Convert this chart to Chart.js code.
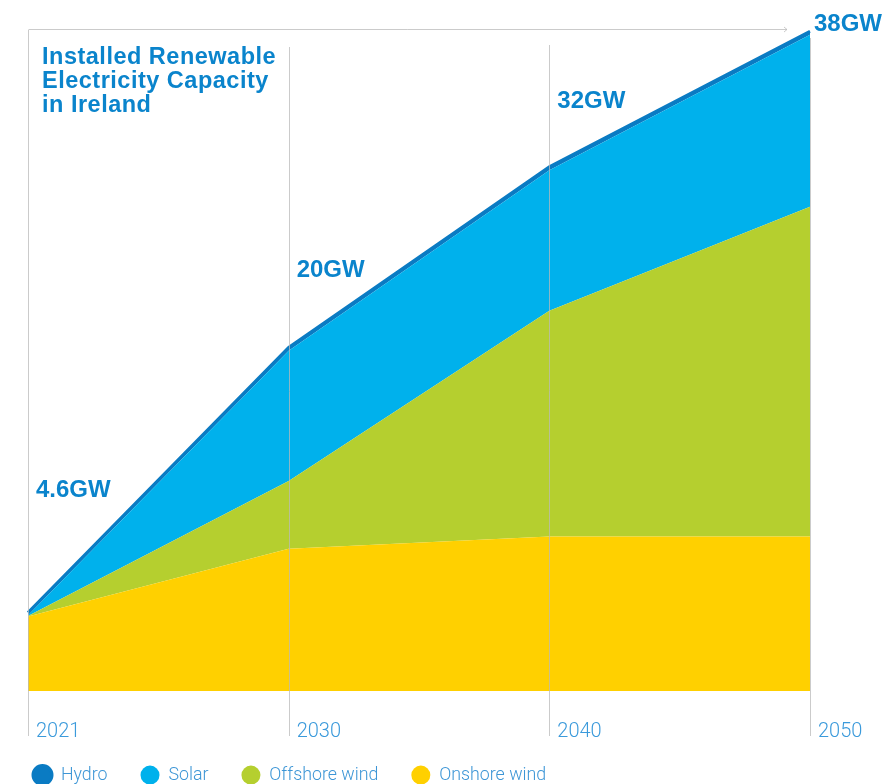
<!DOCTYPE html>
<html>
<head>
<meta charset="utf-8">
<script src="https://cdn.jsdelivr.net/npm/chart.js@4/dist/chart.umd.min.js"></script>
<style>
  html, body { margin: 0; padding: 0; background: #fff; overflow: hidden; }
  #wrap { width: 884px; height: 794px; position: relative; }
</style>
</head>
<body>
<div id="wrap"><canvas id="capacityChart"></canvas></div>
<script>
// Datos del gráfico (GW)
const years = ['2021', '2030', '2040', '2050'];
const onshoreWind = [4.3, 8.2, 8.9, 8.9];
const offshoreWind = [0.02, 3.9, 13.0, 19.0];
const solar = [0.05, 7.5, 8.1, 9.9];
const hydro = [0.15, 0.2, 0.2, 0.2];
const totalLabels = ['4.6GW', '20GW', '32GW', '38GW'];
const titleLines = ['Installed Renewable', 'Electricity Capacity', 'in Ireland'];

const BLUE_TEXT = '#0A84CC';
const TICK_TEXT = '#3B9ADB';

// Líneas verticales, años y etiquetas de totales
const annotations = {
    id: 'annotations',
    afterDatasetsDraw(chart) {
        const ctx = chart.ctx;
        const x = chart.scales.x;
        const lineTops = [30, 47, 45, 38];
        const labelY = [497, 277, 108, 31];

        ctx.save();
        ctx.strokeStyle = 'rgba(185,185,185,0.75)';
        ctx.lineWidth = 1;
        years.forEach(function(y, i) {
            const px = Math.round(x.getPixelForValue(i)) + 0.5;
            ctx.beginPath();
            ctx.moveTo(px, lineTops[i]);
            ctx.lineTo(px, 736);
            ctx.stroke();
        });

        // línea horizontal superior con flecha
        const x0 = Math.round(x.getPixelForValue(0)) + 0.5;
        ctx.beginPath();
        ctx.moveTo(x0, 29.5);
        ctx.lineTo(787, 29.5);
        ctx.moveTo(784, 27);
        ctx.lineTo(787, 29.5);
        ctx.lineTo(784, 32);
        ctx.stroke();

        // años
        ctx.fillStyle = TICK_TEXT;
        ctx.font = '300 20px Roboto, "Liberation Sans", sans-serif';
        ctx.textBaseline = 'alphabetic';
        ctx.textAlign = 'left';
        years.forEach(function(y, i) {
            ctx.fillText(y, x.getPixelForValue(i) + 8, 737);
        });

        // etiquetas de totales
        ctx.fillStyle = BLUE_TEXT;
        ctx.font = 'bold 24px "Liberation Sans", Arial, sans-serif';
        totalLabels.forEach(function(t, i) {
            const off = i === 3 ? 4 : 8;
            ctx.fillText(t, x.getPixelForValue(i) + off, labelY[i]);
        });

        // título
        ctx.font = 'bold 23.5px "Liberation Sans", Arial, sans-serif';
        ctx.letterSpacing = '0.5px';
        titleLines.forEach(function(t, i) {
            ctx.fillText(t, 42, 64 + i * 24);
        });
        ctx.restore();
    }
};

document.addEventListener('DOMContentLoaded', function() {
    const ctx = document.getElementById('capacityChart').getContext('2d');
    new Chart(ctx, {
        type: 'line',
        data: {
            labels: years,
            datasets: [
                {
                    label: 'Onshore wind',
                    data: onshoreWind,
                    backgroundColor: '#FFD000',
                    borderColor: '#FFD000',
                    borderWidth: 0,
                    fill: 'origin'
                },
                {
                    label: 'Offshore wind',
                    data: offshoreWind,
                    backgroundColor: '#B5CF2F',
                    borderColor: '#B5CF2F',
                    borderWidth: 0,
                    fill: '-1'
                },
                {
                    label: 'Solar',
                    data: solar,
                    backgroundColor: '#00B1EC',
                    borderColor: '#00B1EC',
                    borderWidth: 0,
                    fill: '-1'
                },
                {
                    label: 'Hydro',
                    data: hydro,
                    backgroundColor: '#0A7BC3',
                    borderColor: '#0A7BC3',
                    borderWidth: 3,
                    fill: '-1'
                }
            ]
        },
        options: {
            responsive: true,
            maintainAspectRatio: false,
            animation: false,
            elements: {
                point: { radius: 0, hoverRadius: 0 },
                line: { tension: 0 }
            },
            layout: { padding: { left: 0, right: 74, top: 0, bottom: 0 } },
            scales: {
                x: {
                    type: 'category',
                    offset: false,
                    grid: { display: false },
                    border: { display: false },
                    ticks: { display: false },
                    afterFit: function(scale) { scale.height = 42.1; }
                },
                y: {
                    stacked: true,
                    min: 0,
                    max: 39.8,
                    grid: { display: false },
                    border: { display: false },
                    ticks: { display: false },
                    afterFit: function(scale) { scale.width = 28; }
                }
            },
            plugins: {
                legend: {
                    position: 'bottom',
                    align: 'start',
                    reverse: true,
                    labels: {
                        usePointStyle: true,
                        pointStyle: 'circle',
                        pointStyleWidth: 19,
                        boxHeight: 13.4,
                        padding: 33,
                        color: '#3D96D6',
                        font: { family: 'Roboto, "Liberation Sans", sans-serif', size: 17.8, weight: '300' }
                    }
                },
                tooltip: { enabled: false }
            }
        },
        plugins: [annotations]
    });
});
</script>
</body>
</html>
